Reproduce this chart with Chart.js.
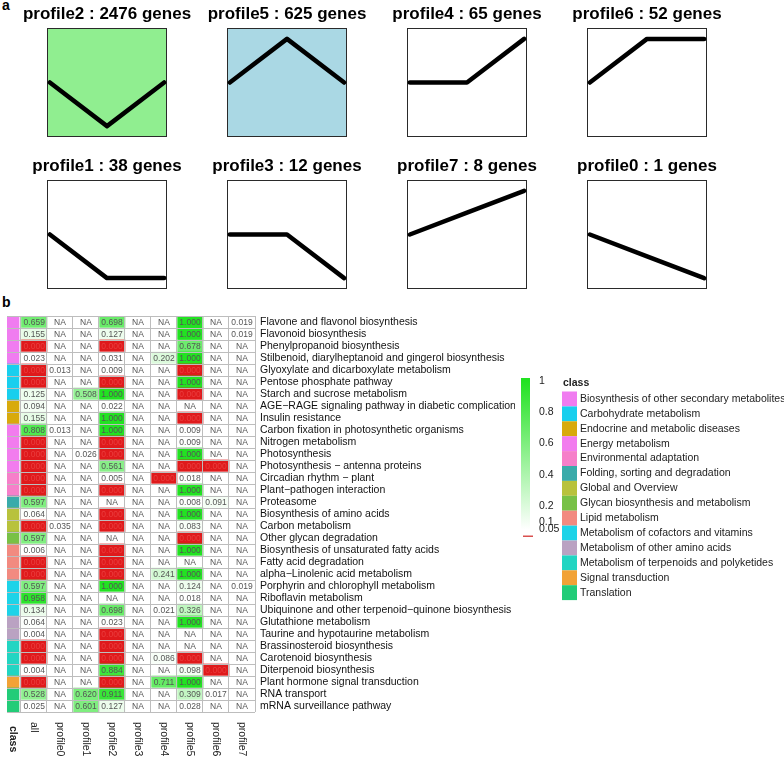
<!DOCTYPE html>
<html>
<head>
<meta charset="utf-8">
<script src="https://cdn.jsdelivr.net/npm/chart.js@4.4.1/dist/chart.umd.min.js"></script>
<style>
  body { margin: 0; background: #fff; }
  #wrap { position: relative; width: 784px; height: 765px; overflow: hidden; font-family: "Liberation Sans", Arial, sans-serif; }
  .tag { position: absolute; font-weight: bold; font-size: 14px; color: #000; }
  canvas { position: absolute; }
</style>
</head>
<body>
<div id="wrap">
  <div class="tag" style="left:2px;top:-3px">a</div>
  <div class="tag" style="left:2px;top:294px">b</div>
</div>
<script>
// ---- panel a : STEM profiles ----
const profileNames = ['profile2', 'profile5', 'profile4', 'profile6', 'profile1', 'profile3', 'profile7', 'profile0'];
const geneCounts = [2476, 625, 65, 52, 38, 12, 8, 1];
const timePoints = [0, 1, 2];
const profile2 = [0, -1, 0];
const profile5 = [0, 1, 0];
const profile4 = [0, 0, 1];
const profile6 = [0, 1, 1];
const profile1 = [0, -1, -1];
const profile3 = [0, 0, -1];
const profile7 = [0, 1, 2];
const profile0 = [0, -1, -2];
const profileShapes = [profile2, profile5, profile4, profile6, profile1, profile3, profile7, profile0];

// ---- panel b : KEGG enrichment heatmap ----
const pathways = [
  'Flavone and flavonol biosynthesis', 'Flavonoid biosynthesis', 'Phenylpropanoid biosynthesis',
  'Stilbenoid, diarylheptanoid and gingerol biosynthesis', 'Glyoxylate and dicarboxylate metabolism',
  'Pentose phosphate pathway', 'Starch and sucrose metabolism',
  'AGE\u2212RAGE signaling pathway in diabetic complications', 'Insulin resistance',
  'Carbon fixation in photosynthetic organisms', 'Nitrogen metabolism', 'Photosynthesis',
  'Photosynthesis \u2212 antenna proteins', 'Circadian rhythm \u2212 plant', 'Plant\u2212pathogen interaction',
  'Proteasome', 'Biosynthesis of amino acids', 'Carbon metabolism', 'Other glycan degradation',
  'Biosynthesis of unsaturated fatty acids', 'Fatty acid degradation', 'alpha\u2212Linolenic acid metabolism',
  'Porphyrin and chlorophyll metabolism', 'Riboflavin metabolism',
  'Ubiquinone and other terpenoid\u2212quinone biosynthesis', 'Glutathione metabolism',
  'Taurine and hypotaurine metabolism', 'Brassinosteroid biosynthesis', 'Carotenoid biosynthesis',
  'Diterpenoid biosynthesis', 'Plant hormone signal transduction', 'RNA transport', 'mRNA surveillance pathway'
];
const classNames = [
  'Biosynthesis of other secondary metabolites', 'Carbohydrate metabolism', 'Endocrine and metabolic diseases',
  'Energy metabolism', 'Environmental adaptation', 'Folding, sorting and degradation', 'Global and Overview',
  'Glycan biosynthesis and metabolism', 'Lipid metabolism', 'Metabolism of cofactors and vitamins',
  'Metabolism of other amino acids', 'Metabolism of terpenoids and polyketides', 'Signal transduction', 'Translation'
];
// class index of every pathway row
const pathwayClass = [0, 0, 0, 0, 1, 1, 1, 2, 2, 3, 3, 3, 3, 4, 4, 5, 6, 6, 7, 8, 8, 8, 9, 9, 9, 10, 10, 11, 11, 11, 12, 13, 13];
const columnNames = ['all', 'profile0', 'profile1', 'profile2', 'profile3', 'profile4', 'profile5', 'profile6', 'profile7'];
// p values, null = NA, 0 = red cell
const pAll = [0.659, 0.155, 0, 0.023, 0, 0, 0.125, 0.094, 0.155, 0.808, 0, 0, 0, 0, 0, 0.597, 0.064, 0, 0.597, 0.006, 0, 0, 0.597, 0.958, 0.134, 0.064, 0.004, 0, 0, 0.004, 0, 0.528, 0.025];
const pProfile0 = [null, null, null, null, 0.013, null, null, null, null, 0.013, null, null, null, null, null, null, null, 0.035, null, null, null, null, null, null, null, null, null, null, null, null, null, null, null];
const pProfile1 = [null, null, null, null, null, null, 0.508, null, null, null, null, 0.026, null, null, null, null, null, null, null, null, null, null, null, null, null, null, null, null, null, null, null, 0.620, 0.601];
const pProfile2 = [0.698, 0.127, 0, 0.031, 0.009, 0, 1.000, 0.022, 1.000, 1.000, 0, 0, 0.561, 0.005, 0, null, 0, 0, null, 0, 0, 0, 1.000, null, 0.698, 0.023, 0, 0, 0, 0.884, 0, 0.911, 0.127];
const pProfile3 = [null, null, null, null, null, null, null, null, null, null, null, null, null, null, null, null, null, null, null, null, null, null, null, null, null, null, null, null, null, null, null, null, null];
const pProfile4 = [null, null, null, 0.202, null, null, null, null, null, null, null, null, null, 0, null, null, null, null, null, null, null, 0.241, null, null, 0.021, null, null, null, 0.086, null, 0.711, null, null];
const pProfile5 = [1.000, 1.000, 0.678, 1.000, 0, 1.000, 0, null, 0, 0.009, 0.009, 1.000, 0, 0.018, 1.000, 0.008, 1.000, 0.083, 0, 1.000, null, 1.000, 0.124, 0.018, 0.326, 1.000, null, null, 0, 0.098, 1.000, 0.309, 0.028];
const pProfile6 = [null, null, null, null, null, null, null, null, null, null, null, null, 0, null, null, 0.091, null, null, null, null, null, null, null, null, null, null, null, null, null, 0, null, 0.017, null];
const pProfile7 = [0.019, 0.019, null, null, null, null, null, null, null, null, null, null, null, null, null, null, null, null, null, null, null, null, 0.019, null, null, null, null, null, null, null, null, null, null];
const columnValues = [pAll, pProfile0, pProfile1, pProfile2, pProfile3, pProfile4, pProfile5, pProfile6, pProfile7];
const colorbarTicks = [1, 0.8, 0.6, 0.4, 0.2, 0.1, 0.05];

// ---------- styles ----------
const FONT = '"Liberation Sans", Arial, sans-serif';
const classColors = ['#f07cf0', '#18cfee', '#d8aa0c', '#f27cee', '#f67fc9', '#3aabaa', '#b8c23c',
  '#78c146', '#f28a80', '#1dd3e8', '#baa2c2', '#22d5c2', '#f2a236', '#22cc78'];
const profileBg = { profile2: '#90ee90', profile5: '#aad8e4' };
const GREEN = [34, 226, 34];

function cellColor(v) {
  if (v === null) return '#ffffff';
  if (v < 0.001) return '#df1a1c';
  if (v < 0.05) return '#ffffff';
  const t = Math.min(1, (v - 0.05) / 0.95);
  const c = GREEN.map(g => Math.round(255 - t * (255 - g)));
  return `rgb(${c[0]},${c[1]},${c[2]})`;
}

const wrap = document.getElementById('wrap');
function addCanvas(left, top, w, h) {
  const c = document.createElement('canvas');
  c.width = w; c.height = h;
  c.style.left = left + 'px'; c.style.top = top + 'px';
  c.style.width = w + 'px'; c.style.height = h + 'px';
  wrap.appendChild(c);
  return c;
}

// box behind each profile line
const profileBox = {
  id: 'profileBox',
  beforeDatasetsDraw(chart, args, opts) {
    const { ctx, chartArea, scales: { x } } = chart;
    const l = x.getPixelForValue(-0.05), r = x.getPixelForValue(2.05);
    ctx.save();
    ctx.fillStyle = opts.fill;
    ctx.fillRect(l, chartArea.top, r - l, chartArea.bottom - chartArea.top);
    ctx.strokeStyle = '#2a2a2a';
    ctx.lineWidth = 1;
    ctx.strokeRect(Math.round(l) + 0.5, chartArea.top + 0.5, Math.round(r - l) - 1, chartArea.bottom - chartArea.top - 1);
    ctx.restore();
  }
};

const boxLefts = [47, 227, 407, 587];
profileNames.forEach((name, k) => {
  const shape = profileShapes[k];
  const amp = Math.max(...shape.map(Math.abs)) * 1.25;
  const top = k < 4 ? 0 : 152;
  const cv = addCanvas(boxLefts[k % 4] - 40, top, 200, 138);
  new Chart(cv, {
    type: 'line',
    data: {
      datasets: [{
        data: timePoints.map((t, i) => ({ x: t, y: shape[i] })),
        borderColor: '#000',
        borderWidth: 4.5,
        borderCapStyle: 'round',
        borderJoinStyle: 'round',
        pointRadius: 0,
        fill: false,
        tension: 0
      }]
    },
    options: {
      responsive: false,
      animation: false,
      layout: { padding: { top: 0, bottom: 1, left: 0, right: 0 } },
      scales: {
        x: { type: 'linear', display: false, min: -0.75, max: 2.75 },
        y: { type: 'linear', display: false, min: -amp, max: amp }
      },
      plugins: {
        legend: { display: false },
        tooltip: { enabled: false },
        title: {
          display: true,
          text: `${name} : ${geneCounts[k]} genes`,
          color: '#000',
          font: { family: FONT, size: 17, weight: 'bold' },
          padding: { top: 4.6, bottom: 3 }
        },
        profileBox: { fill: profileBg[name] || '#ffffff' }
      }
    },
    plugins: [profileBox]
  });
});

// ---------- heatmap ----------
const CLASS_X = [-0.538, -0.077];

const cellText = {
  id: 'cellText',
  afterDatasetsDraw(chart) {
    const { ctx } = chart;
    ctx.save();
    ctx.font = `8.5px ${FONT}`;
    ctx.textAlign = 'center';
    ctx.textBaseline = 'middle';
    columnValues.forEach((vals, j) => {
      const meta = chart.getDatasetMeta(j + 1);
      meta.data.forEach((el, i) => {
        const v = vals[i];
        const cx = (el.x + el.base) / 2;
        ctx.fillStyle = (v !== null && v < 0.001) ? '#ea3e3e' : '#555';
        ctx.fillText(v === null ? 'NA' : v.toFixed(3), cx, el.y + 0.5);
      });
    });
    ctx.restore();
  }
};

const heatDecor = {
  id: 'heatDecor',
  afterDraw(chart) {
    const { ctx, chartArea, scales: { x } } = chart;
    ctx.save();
    // column labels, rotated clockwise
    ctx.textAlign = 'left';
    ctx.textBaseline = 'middle';
    ctx.fillStyle = '#222';
    ctx.font = `10.5px ${FONT}`;
    columnNames.forEach((name, j) => {
      ctx.save();
      ctx.translate(x.getPixelForValue(j + 0.5), chartArea.bottom + 10);
      ctx.rotate(Math.PI / 2);
      ctx.fillText(name, 0, 0);
      ctx.restore();
    });
    ctx.save();
    ctx.font = `bold 10.5px ${FONT}`;
    ctx.translate(x.getPixelForValue((CLASS_X[0] + CLASS_X[1]) / 2), chartArea.bottom + 14);
    ctx.rotate(Math.PI / 2);
    ctx.fillText('class', 0, 0);
    ctx.restore();

    // colour bar
    const barL = 521, barW = 9, yTop = 81, yBot = 229.5;
    const pos = v => yBot - (v - 0.05) / 0.95 * (yBot - yTop);
    const grad = ctx.createLinearGradient(0, yTop, 0, yBot);
    grad.addColorStop(0, cellColor(1));
    grad.addColorStop(1, '#ffffff');
    ctx.fillStyle = grad;
    ctx.fillRect(barL, yTop - 3, barW, yBot - yTop + 3);
    ctx.fillStyle = '#d9504f';
    ctx.fillRect(barL + 2, yBot + 6, 10, 1.5);
    ctx.fillStyle = '#222';
    ctx.font = `10.5px ${FONT}`;
    ctx.textAlign = 'left';
    ctx.textBaseline = 'middle';
    colorbarTicks.forEach(v => ctx.fillText(String(v), 539, pos(v)));

    // class legend
    const lx = 562, ly = 91.5, step = 14.9;
    ctx.font = `bold 10.5px ${FONT}`;
    ctx.fillText('class', 563, 83);
    ctx.font = `10.5px ${FONT}`;
    classNames.forEach((name, k) => {
      ctx.fillStyle = classColors[k];
      ctx.fillRect(lx, ly + k * step, 15, step);
      ctx.fillStyle = '#222';
      ctx.fillText(name, 580, ly + k * step + step / 2);
    });
    ctx.restore();
  }
};

const heatDatasets = [{
  label: 'class',
  data: pathways.map(() => CLASS_X),
  backgroundColor: pathwayClass.map(c => classColors[c])
}].concat(columnValues.map((vals, j) => ({
  label: columnNames[j],
  data: vals.map(() => [j, j + 1]),
  backgroundColor: vals.map(cellColor)
})));
heatDatasets.forEach(ds => Object.assign(ds, {
  grouped: false, barPercentage: 1, categoryPercentage: 1, borderWidth: 0, borderSkipped: false
}));

const hc = addCanvas(0, 300, 784, 465);
new Chart(hc, {
  type: 'bar',
  data: { labels: pathways, datasets: heatDatasets },
  options: {
    indexAxis: 'y',
    responsive: false,
    animation: false,
    layout: { padding: { left: 7, top: 16, right: 269, bottom: 53 } },
    scales: {
      x: {
        type: 'linear',
        min: CLASS_X[0],
        max: columnNames.length,
        afterBuildTicks(scale) {
          scale.ticks = columnNames.map((n, j) => ({ value: j })).concat([{ value: columnNames.length }]);
        },
        afterFit(scale) { scale.height = 0; },
        ticks: { display: false },
        border: { display: false },
        grid: { color: '#bdbdbd', lineWidth: 1, drawTicks: false, z: 1 }
      },
      y: {
        position: 'right',
        offset: true,
        afterFit(scale) { scale.width = 260; },
        ticks: { color: '#111', padding: 5, autoSkip: false, font: { family: FONT, size: 10.5 } },
        border: { display: false },
        grid: { offset: true, color: '#bdbdbd', lineWidth: 1, drawTicks: false, z: 1 }
      }
    },
    plugins: {
      legend: { display: false },
      tooltip: { enabled: false }
    }
  },
  plugins: [cellText, heatDecor]
});
</script>
</body>
</html>
